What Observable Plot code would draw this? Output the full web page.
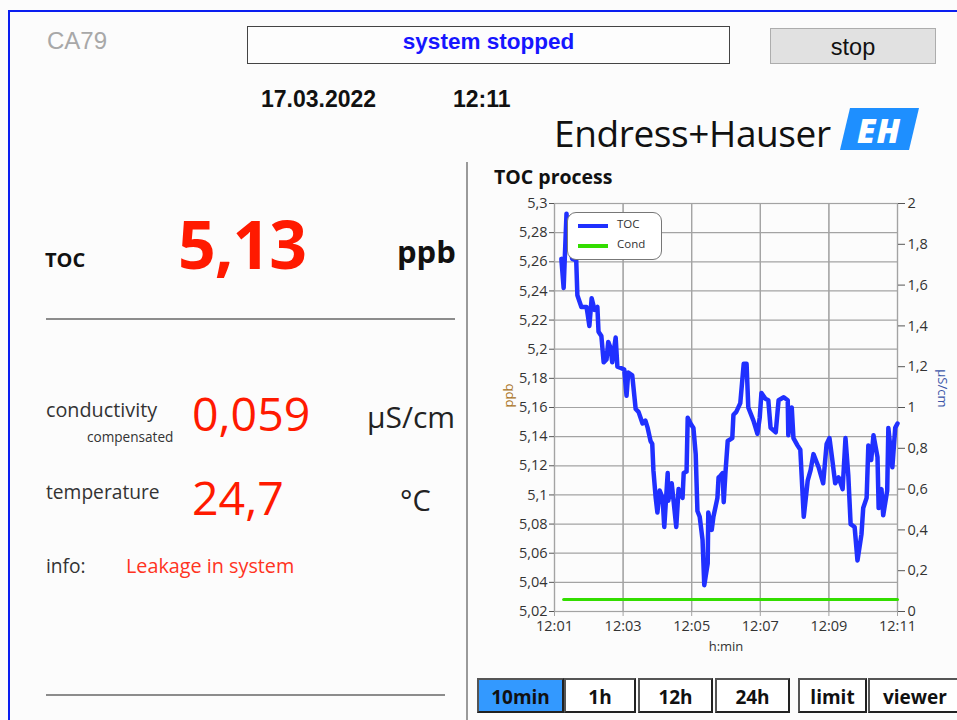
<!DOCTYPE html>
<html>
<head>
<meta charset="utf-8">
<script src="https://cdn.jsdelivr.net/npm/d3@7"></script>
<script src="https://cdn.jsdelivr.net/npm/@observablehq/plot@0.6"></script>
<style>
  html, body { margin:0; padding:0; }
  body { width:957px; height:720px; background:#fcfcfc; position:relative; overflow:hidden; font-family:"Open Sans", sans-serif; }
  .abs { position:absolute; white-space:nowrap; }
  .frameTop { position:absolute; left:8px; top:10px; width:960px; height:2px; background:#0a1ef0; }
  .frameLeft { position:absolute; left:8px; top:10px; width:2px; height:720px; background:#0a1ef0; }
  .divider { position:absolute; left:466px; top:162px; width:2px; height:560px; background:#9a9a9a; }
  .sep { position:absolute; height:2px; background:#8c8c8c; }
  .btn { position:absolute; top:678px; height:31px; border:2px solid #222; border-top-color:#555; border-left-color:#555; background:#fff; box-sizing:content-box;
         font-family:"Open Sans", sans-serif; font-weight:700; font-size:19px; color:#111; text-align:center; line-height:34px; }
  #legend { position:absolute; left:567px; top:212px; width:93px; height:46px; border:1px solid #777; border-radius:9px; background:#fff; }
  #legend .ln { position:absolute; left:10px; width:30px; height:4px; }
  #legend .lt { position:absolute; left:49px; font-size:11.5px; color:#333; font-family:"Open Sans", sans-serif; }
</style>
</head>
<body>
<div class="frameTop"></div>
<div class="frameLeft"></div>
<div class="divider"></div>

<div class="abs" style="left:47px; top:27px; font-family:'Liberation Sans',Arial,sans-serif; font-size:24px; color:#a8a8a8;">CA79</div>
<div class="abs" style="left:247px; top:26px; width:481px; height:36px; border:1px solid #444; background:#fdfdfd;"></div>
<div class="abs" style="left:247px; top:29px; width:483px; text-align:center; font-family:'Liberation Sans',Arial,sans-serif; font-weight:700; font-size:22.5px; color:#1616ff;">system stopped</div>
<div class="abs" style="left:770px; top:28px; width:164px; height:34px; border:1px solid #adadad; background:#e1e1e1; text-align:center; font-family:'Liberation Sans',Arial,sans-serif; font-size:23.5px; line-height:37px; color:#111;">stop</div>
<div class="abs" style="left:261px; top:86px; font-family:'Liberation Sans',Arial,sans-serif; font-weight:700; font-size:23px; color:#111;">17.03.2022</div>
<div class="abs" style="left:453px; top:86px; font-family:'Liberation Sans',Arial,sans-serif; font-weight:700; font-size:23px; color:#111;">12:11</div>

<div class="abs" style="left:554px; top:107px; font-family:'Open Sans',sans-serif; font-size:37px; letter-spacing:-0.4px; color:#111;">Endress+Hauser</div>
<svg class="abs" style="left:839px; top:107px;" width="82" height="45" viewBox="0 0 82 45">
  <polygon points="11,1 80,1 70,43 1,43" fill="#1e8fff"/>
  <text x="40" y="36" text-anchor="middle" font-family="'Open Sans',sans-serif" font-weight="800" font-style="italic" font-size="33" fill="#fff" letter-spacing="1">EH</text>
</svg>

<div class="abs" style="left:45px; top:246px; font-weight:700; font-size:20px; color:#111;">TOC</div>
<div class="abs" style="left:178px; top:198px; font-weight:700; font-size:66px; color:#ff1a00; letter-spacing:-1px;">5,13</div>
<div class="abs" style="left:397px; top:230px; font-weight:700; font-size:31px; color:#111;">ppb</div>
<div class="sep" style="left:46px; top:318px; width:409px;"></div>

<div class="abs" style="left:46px; top:396px; font-size:19.8px; color:#333;">conductivity</div>
<div class="abs" style="left:87px; top:427px; font-size:13.6px; color:#333;">compensated</div>
<div class="abs" style="left:192px; top:381px; font-size:46.5px; color:#ff1a00;">0,059</div>
<div class="abs" style="left:367px; top:396px; font-size:30px; color:#222;">µS/cm</div>
<div class="abs" style="left:46px; top:478px; font-size:19.2px; color:#333;">temperature</div>
<div class="abs" style="left:192px; top:465px; font-size:46.5px; color:#ff1a00;">24,7</div>
<div class="abs" style="left:400px; top:480px; font-size:29px; color:#222;">°C</div>
<div class="abs" style="left:46px; top:552px; font-size:19.2px; color:#333;">info:</div>
<div class="abs" style="left:126px; top:552px; font-size:19.8px; color:#ff3322;">Leakage in system</div>
<div class="sep" style="left:46px; top:694px; width:399px;"></div>

<div class="abs" style="left:494px; top:163px; font-weight:700; font-size:19.5px; color:#111;">TOC process</div>

<div id="chart" class="abs" style="left:480px; top:190px;"></div>

<div id="legend">
  <div class="ln" style="top:11px; background:#2030ff;"></div>
  <div class="lt" style="top:3px;">TOC</div>
  <div class="ln" style="top:31px; background:#33dd00;"></div>
  <div class="lt" style="top:23px;">Cond</div>
</div>

<div class="btn" style="left:477px; width:83px; background:#3399ff;">10min</div>
<div class="btn" style="left:564px; width:68px;">1h</div>
<div class="btn" style="left:638px; width:71px;">12h</div>
<div class="btn" style="left:715px; width:71px;">24h</div>
<div class="btn" style="left:798px; width:65px;">limit</div>
<div class="btn" style="left:868px; width:90px;">viewer</div>

<script>
// ---- data (seconds after 12:01:00, TOC in ppb) ----
const tocSeconds = [12,16,21,23,31,38,40,47,56,58,61,65,70,75,77,82,86,91,94,98,101,107,110,117,122,126,129,136,142,147,154,159,163,168,171,173,177,180,184,189,192,198,199,205,208,213,217,224,226,231,233,238,243,247,250,254,259,262,268,269,275,278,285,287,290,294,296,299,303,311,313,318,325,331,336,339,348,355,359,362,369,374,378,387,392,401,408,409,415,418,425,430,436,443,448,453,462,470,476,481,486,491,497,504,509,514,518,525,530,537,540,546,549,554,558,565,567,572,575,582,584,591,596,600];
const tocValues = [5.262,5.242,5.293,5.279,5.262,5.261,5.237,5.229,5.229,5.224,5.216,5.235,5.227,5.229,5.212,5.209,5.191,5.193,5.205,5.201,5.191,5.208,5.188,5.187,5.186,5.168,5.184,5.182,5.159,5.157,5.149,5.151,5.146,5.137,5.135,5.117,5.098,5.088,5.103,5.098,5.078,5.115,5.096,5.108,5.097,5.078,5.104,5.098,5.115,5.116,5.153,5.149,5.146,5.128,5.089,5.085,5.069,5.038,5.053,5.088,5.076,5.085,5.098,5.112,5.113,5.115,5.095,5.115,5.137,5.139,5.155,5.157,5.163,5.190,5.190,5.160,5.151,5.142,5.153,5.170,5.166,5.165,5.146,5.143,5.165,5.167,5.165,5.141,5.160,5.139,5.134,5.131,5.085,5.110,5.117,5.128,5.119,5.108,5.135,5.139,5.124,5.108,5.112,5.104,5.139,5.113,5.080,5.078,5.055,5.073,5.091,5.098,5.134,5.124,5.141,5.126,5.091,5.104,5.086,5.103,5.146,5.119,5.146,5.149];
const condSeconds = [16, 600];
const condValues = [0.059, 0.059];
const xTickLabels = ["12:01","12:03","12:05","12:07","12:09","12:11"];
const tocTicks = [5.02,5.04,5.06,5.08,5.1,5.12,5.14,5.16,5.18,5.2,5.22,5.24,5.26,5.28,5.3];
const condTicks = [0,0.2,0.4,0.6,0.8,1,1.2,1.4,1.6,1.8,2];
const tocDomain = [5.02, 5.3];
const condDomain = [0, 2];

// ---- helpers ----
const base = new Date(2022, 2, 17, 12, 1, 0);
const toDate = s => new Date(base.getTime() + s * 1000);
const parseHM = l => { const [h, m] = l.split(":"); return new Date(2022, 2, 17, +h, +m, 0); };
const xTicks = xTickLabels.map(parseHM);
const xStart = xTicks[0], xEnd = xTicks[xTicks.length - 1];
const condToToc = c => tocDomain[0] + (c - condDomain[0]) / (condDomain[1] - condDomain[0]) * (tocDomain[1] - tocDomain[0]);
const comma = v => String(+(+v).toFixed(2)).replace(".", ",");

const toc = tocSeconds.map((s, i) => ({t: toDate(s), v: tocValues[i]}));
const cond = condSeconds.map((s, i) => ({t: toDate(s), v: condToToc(condValues[i])}));

const gridColor = "#a3a3a3";
const labelFont = 14.5;
const chart = Plot.plot({
  width: 477,
  height: 470,
  marginLeft: 74,
  marginRight: 60,
  marginTop: 13,
  marginBottom: 49,
  style: {background: "transparent", fontFamily: "'Open Sans', sans-serif", color: "#333"},
  x: {type: "time", domain: [xStart, xEnd]},
  y: {domain: tocDomain},
  marks: [
    Plot.gridX(xTicks, {stroke: gridColor, strokeOpacity: 1, strokeWidth: 1.2}),
    Plot.gridY(tocTicks, {stroke: gridColor, strokeOpacity: 1, strokeWidth: 1.2}),
    Plot.frame({stroke: gridColor, strokeWidth: 1.2}),
    Plot.tickX(xTicks, {x: d => d, frameAnchor: "bottom", dy: 0, stroke: gridColor, insetTop: 0}),
    Plot.axisX(xTicks, {tickFormat: () => "", tickSize: 5, label: null, stroke: gridColor}),
    Plot.axisY(tocTicks, {anchor: "left", tickFormat: () => "", tickSize: 5, label: null, stroke: "#555"}),
    Plot.axisY(condTicks.map(condToToc), {anchor: "right", tickFormat: () => "", tickSize: 7, label: null, stroke: "#555"}),
    // tick labels
    Plot.text(xTicks, {x: d => d, frameAnchor: "bottom", dy: 19, text: d3.timeFormat("%H:%M"), fontSize: labelFont, fill: "#333"}),
    Plot.text(tocTicks, {x: () => xStart, y: d => d, text: comma, textAnchor: "end", dx: -7, fontSize: labelFont, fill: "#333"}),
    Plot.text(condTicks, {x: () => xEnd, y: d => condToToc(d), text: comma, textAnchor: "start", dx: 10, fontSize: labelFont, fill: "#333"}),
    Plot.text(["h:min"], {frameAnchor: "bottom", dy: 39, fill: "#333", fontSize: 13}),
    Plot.text(["ppb"], {frameAnchor: "left", dx: -46, rotate: -90, fill: "#a8701a", fontSize: 13}),
    Plot.text(["µS/cm"], {frameAnchor: "right", dx: 45, rotate: 90, fill: "#3b55a8", fontSize: 13}),
    // series
    Plot.line(cond, {x: "t", y: "v", stroke: "#33dd00", strokeWidth: 3}),
    Plot.line(toc, {x: "t", y: "v", stroke: "#2030ff", strokeWidth: 4.5, strokeLinejoin: "round", strokeLinecap: "round"})
  ]
});
document.getElementById("chart").appendChild(chart);
</script>
</body>
</html>
